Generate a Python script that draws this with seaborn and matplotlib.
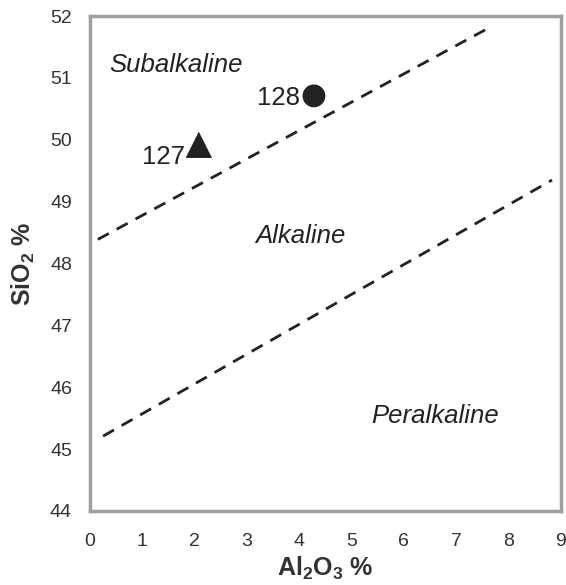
import matplotlib
matplotlib.use("Agg")
import matplotlib.pyplot as plt
import seaborn as sns
import pandas as pd

# Data
sample_ids = ["127", "128"]
al2o3 = [2.08, 4.28]
sio2 = [49.92, 50.71]
sample_markers = ["^", "o"]

upper_line_x = [0.15, 7.69]
upper_line_y = [48.39, 51.84]
lower_line_x = [0.25, 8.83]
lower_line_y = [45.21, 49.35]

field_names = ["Subalkaline", "Alkaline", "Peralkaline"]
field_x = [1.64, 4.02, 6.6]
field_y = [51.21, 48.45, 45.53]

x_ticks = list(range(0, 10))
y_ticks = list(range(44, 53))

sns.set_style("white")
plt.rcParams['font.family'] = ['Liberation Sans', 'DejaVu Sans']
plt.rcParams['mathtext.fontset'] = 'custom'
plt.rcParams['mathtext.rm'] = 'Liberation Sans:bold'
plt.rcParams['mathtext.bf'] = 'Liberation Sans:bold'
plt.rcParams['mathtext.it'] = 'Liberation Sans:bold'

fig = plt.figure(figsize=(5.66, 5.85), dpi=100)
ax = fig.add_axes([0.159, 0.1265, 0.832, 0.846])

lines_df = pd.DataFrame({
    "x": upper_line_x + lower_line_x,
    "y": upper_line_y + lower_line_y,
    "line": ["upper"] * 2 + ["lower"] * 2,
})
sns.lineplot(data=lines_df, x="x", y="y", units="line", estimator=None,
             color="#222222", linewidth=2.0, dashes=False, ax=ax, legend=False)
for l in ax.get_lines():
    l.set_dashes([4.5, 3.2])

pts = pd.DataFrame({"x": al2o3, "y": sio2, "id": sample_ids})
for i in range(len(sample_ids)):
    sub = pts.iloc[[i]]
    sns.scatterplot(data=sub, x="x", y="y", marker=sample_markers[i],
                    s=360 if sample_markers[i] == "^" else 270,
                    color="#222222", edgecolor="none", ax=ax, legend=False, zorder=5)

for sid, xv, yv in zip(sample_ids, al2o3, sio2):
    ax.text(xv - 0.27, yv - 0.2 if sid == "127" else yv - 0.03, sid,
            ha="right", va="center", fontsize=18.5, color="#222222")

for name, xv, yv in zip(field_names, field_x, field_y):
    ax.text(xv, yv, name, ha="center", va="center", fontsize=18.5,
            style="italic", color="#222222")

ax.set_xlim(0, 9)
ax.set_ylim(44, 52)
ax.set_xticks(x_ticks)
ax.set_yticks(y_ticks)
ax.tick_params(axis="both", which="major", direction="out", length=5, width=1,
               color="#aaaaaa", labelsize=14, labelcolor="#333333")
ax.tick_params(axis="x", pad=11)
ax.tick_params(axis="y", pad=8)
for sp in ax.spines.values():
    sp.set_visible(True)
    sp.set_color("#a0a0a0")
    sp.set_linewidth(2.5)

ax.set_xlabel("Al$_2$O$_3$ %", fontsize=18, fontweight="bold", color="#333333", labelpad=3)
ax.set_ylabel("SiO$_2$ %", fontsize=18, fontweight="bold", color="#333333", labelpad=9)

fig.savefig("out.png", dpi=100)
